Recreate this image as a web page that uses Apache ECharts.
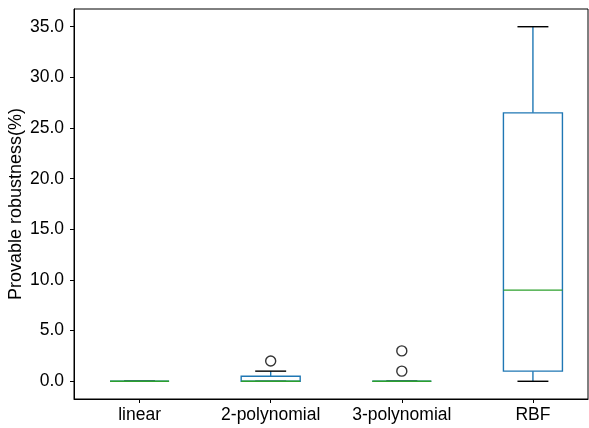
<!DOCTYPE html>
<html>
<head>
<meta charset="utf-8">
<script src="https://cdn.jsdelivr.net/npm/echarts@6/dist/echarts.min.js"></script>
<style>
html,body{margin:0;padding:0;background:#fff;}
#c{width:589px;height:428px;}
</style>
</head>
<body>
<div id="c"></div>
<script>
const categories = ['linear', '2-polynomial', '3-polynomial', 'RBF'];
const whiskerLow = [0, 0, 0, 0];
const q1 = [0, 0, 0, 1];
const median = [0, 0, 0, 9];
const q3 = [0, 0.5, 0, 26.5];
const whiskerHigh = [0, 1, 0, 35];
const outlierCategory = [2, 3, 3];
const outlierValue = [2, 1, 3];
const yTicks = [0, 5, 10, 15, 20, 25, 30, 35];

const FONT = '"Liberation Sans", Arial, Helvetica, sans-serif';
const FS = 17.5;
const BOX_HALF = 0.225;
const CAP_HALF = 0.118;

const boxData = categories.map((c, i) => [i + 1, whiskerLow[i], q1[i], median[i], q3[i], whiskerHigh[i]]);
const outlierData = outlierCategory.map((c, i) => [c, outlierValue[i]]);

function renderBox(params, api) {
  const x = api.value(0);
  const lo = api.value(1), b1 = api.value(2), md = api.value(3), b3 = api.value(4), hi = api.value(5);
  const pLo = api.coord([x, lo]);
  const pQ1 = api.coord([x, b1]);
  const pQ3 = api.coord([x, b3]);
  const pHi = api.coord([x, hi]);
  const left = api.coord([x - BOX_HALF, md])[0];
  const right = api.coord([x + BOX_HALF, md])[0];
  const capL = api.coord([x - CAP_HALF, md])[0];
  const capR = api.coord([x + CAP_HALF, md])[0];
  const pMd = api.coord([x, md]);
  const blue = '#1f77b4', green = '#2ca02c', lw = 1.4;
  return {
    type: 'group',
    children: [
      { type: 'line', shape: { x1: pLo[0], y1: pLo[1], x2: pQ1[0], y2: pQ1[1] }, style: { stroke: blue, lineWidth: lw } },
      { type: 'line', shape: { x1: pQ3[0], y1: pQ3[1], x2: pHi[0], y2: pHi[1] }, style: { stroke: blue, lineWidth: lw } },
      { type: 'line', shape: { x1: capL, y1: pLo[1], x2: capR, y2: pLo[1] }, style: { stroke: '#000', lineWidth: lw } },
      { type: 'line', shape: { x1: capL, y1: pHi[1], x2: capR, y2: pHi[1] }, style: { stroke: '#000', lineWidth: lw } },
      { type: 'rect', shape: { x: left, y: pQ3[1], width: right - left, height: pQ1[1] - pQ3[1] }, style: { stroke: blue, fill: 'none', lineWidth: lw } },
      { type: 'line', shape: { x1: left, y1: pMd[1], x2: right, y2: pMd[1] }, style: { stroke: green, lineWidth: lw } }
    ]
  };
}

const chart = echarts.init(document.getElementById('c'), null, { renderer: 'canvas' });
chart.setOption({
  animation: false,
  backgroundColor: '#fff',
  textStyle: { fontFamily: FONT },
  grid: { left: 74, right: 1, top: 9, bottom: 29, containLabel: false, outerBoundsMode: 'none', show: true, borderColor: '#000', borderWidth: 1, backgroundColor: 'transparent' },
  xAxis: {
    type: 'value',
    min: 0.5,
    max: 4.42,
    splitLine: { show: false },
    axisLine: { show: true, onZero: false, lineStyle: { color: '#000', width: 1 } },
    axisTick: { show: true, customValues: [1, 2, 3, 4], length: 4, lineStyle: { color: '#000', width: 1 } },
    axisLabel: {
      customValues: [1, 2, 3, 4],
      formatter: v => categories[Math.round(v) - 1] || '',
      color: '#000', fontSize: FS, fontFamily: FONT, margin: 7
    }
  },
  yAxis: {
    type: 'value',
    min: -1.75,
    max: 36.75,
    name: 'Provable robustness(%)',
    nameLocation: 'middle',
    nameGap: 49,
    nameMoveOverlap: false,
    nameTextStyle: { color: '#000', fontSize: 18, fontFamily: FONT },
    splitLine: { show: false },
    axisLine: { show: true, onZero: false, lineStyle: { color: '#000', width: 1 } },
    axisTick: { show: true, customValues: yTicks, length: 4, lineStyle: { color: '#000', width: 1 } },
    axisLabel: {
      customValues: yTicks,
      formatter: v => v.toFixed(1),
      color: '#000', fontSize: FS, fontFamily: FONT, margin: 10
    }
  },
  series: [
    {
      type: 'custom',
      renderItem: renderBox,
      data: boxData,
      encode: { x: 0, y: [1, 2, 3, 4, 5] },
      clip: false
    },
    {
      type: 'scatter',
      data: outlierData,
      symbol: 'circle',
      symbolSize: 10,
      itemStyle: { color: 'rgba(0,0,0,0)', borderColor: '#000', borderWidth: 1.4 },
      emphasis: { disabled: true }
    }
  ]
});
</script>
</body>
</html>
